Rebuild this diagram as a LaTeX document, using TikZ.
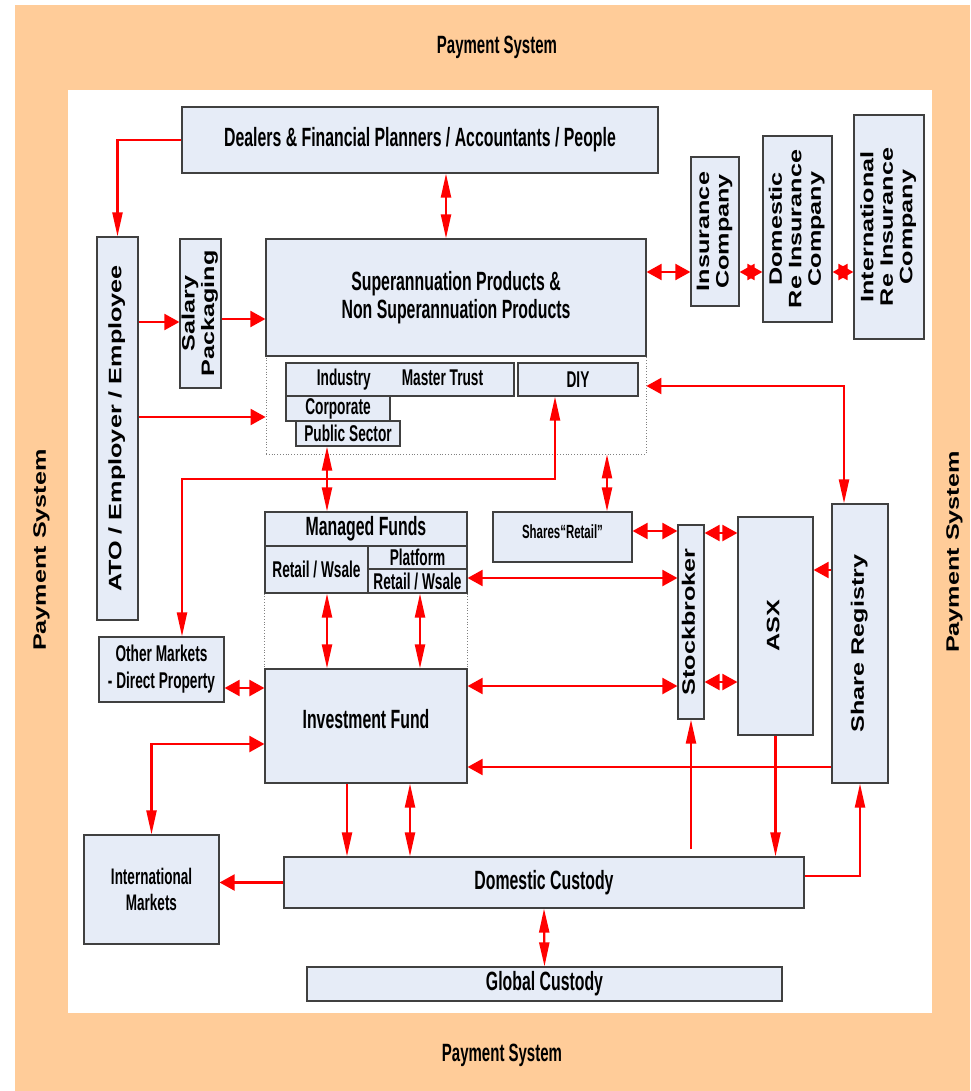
\documentclass[tikz,border=0pt]{standalone}
\usepackage{fontspec}
\usepackage{graphicx}
\usetikzlibrary{arrows.meta}
\newfontfamily\narrowfont[FakeStretch=0.6]{Liberation Sans}
\newfontfamily\widefont[FakeStretch=1.4]{Liberation Sans}
\definecolor{paysys}{RGB}{255,204,153}
\definecolor{boxfill}{RGB}{230,236,247}
\definecolor{boxline}{RGB}{64,64,64}
\newcommand{\sidetext}[1]{\rotatebox{90}{\widefont\bfseries\fontsize{18}{19.5}\selectfont
  \begin{tabular}{@{}c@{}}#1\end{tabular}}}
\tikzset{HTip/.tip={Triangle[length=15pt,width=16pt]},
  VTip/.tip={Triangle[length=24pt,width=10pt]}}

\begin{document}
\begin{tikzpicture}[x=1pt, y=-1pt,
    box/.style={draw=boxline, line width=1.2pt, fill=boxfill, inner sep=0pt, align=center,
      font=\narrowfont\bfseries\fontsize{22.8}{27}\selectfont},
    big/.style={font=\narrowfont\bfseries\fontsize{26.4}{28}\selectfont},
    flow/.style={draw=red, line width=2.2pt}]
    \useasboundingbox (0,0) rectangle (970,1091);
    \fill[paysys] (15,5) rectangle (970,1091);
    \fill[white] (68,90) rectangle (932,1013);
    \node[big, font=\narrowfont\bfseries\fontsize{25}{28}\selectfont] (paytop) at (497,47) {Payment System};
    \node[big, font=\narrowfont\bfseries\fontsize{25}{28}\selectfont] (paybot) at (502,1055) {Payment System};
    \node (payleft) at (42,550) {\sidetext{Payment System}};
    \node (payright) at (955,552) {\sidetext{Payment System}};

    % top row
    \node[box, big, minimum width=476pt, minimum height=66pt] (dealers) at (420,140)
	{Dealers \& Financial Planners / Accountants / People};
    \node[box, minimum width=41pt, minimum height=383pt] (ato) at (117.5,428.5)
	{\sidetext{ATO / Employer / Employee}};
    \node[box, minimum width=41pt, minimum height=149pt] (salary) at (200.5,313.5)
	{\sidetext{Salary\\Packaging}};
    \node[draw=gray, dotted, line width=0.8pt, inner sep=0pt,
	minimum width=380pt, minimum height=98pt] (fundtypes) at (456,405) {};
    \node[box, big, minimum width=380pt, minimum height=117pt] (super) at (456,297.5)
	{Superannuation Products \&\\Non Superannuation Products};
    \node[box, minimum width=228pt, minimum height=33pt] (industry) at (400,379.5)
	{Industry\hspace{31pt}Master Trust};
    \node[box, minimum width=120pt, minimum height=33pt] (diy) at (578,379.5) {DIY};
    \node[box, minimum width=104pt, minimum height=25pt] (corporate) at (338,408.5) {Corporate};
    \node[box, minimum width=104pt, minimum height=25pt] (public) at (348,433.5) {Public Sector};

    % insurance
    \node[box, minimum width=48pt, minimum height=149pt] (insco) at (715,231.5)
	{\sidetext{Insurance\\Company}};
    \node[box, minimum width=69pt, minimum height=186pt] (domre) at (797.5,229)
	{\sidetext{Domestic\\Re Insurance\\Company}};
    \node[box, minimum width=70pt, minimum height=224pt] (intre) at (889,227)
	{\sidetext{International\\Re Insurance\\Company}};

    % funds
    \node[box, big, minimum width=202pt, minimum height=34pt] (managed) at (366,529) {Managed Funds};
    \node[box, minimum width=103pt, minimum height=47pt] (retail1) at (316.5,569.5) {Retail / Wsale};
    \node[box, minimum width=99pt, minimum height=23pt] (platform) at (417.5,557.5) {Platform};
    \node[box, minimum width=99pt, minimum height=24pt] (retail2) at (417.5,581) {Retail / Wsale};
    \node[box, big, minimum width=202pt, minimum height=114pt] (invest) at (366,726)
	{\raisebox{15pt}{Investment Fund}};
    \draw[gray, dotted, line width=0.8pt] (retail1.south west) -- (invest.north west);
    \draw[gray, dotted, line width=0.8pt] (retail2.south east) -- (invest.north east);
    \node[box, minimum width=125pt, minimum height=65pt] (others) at (161.5,669.5)
	{Other Markets\\- Direct Property};
    \node[box, font=\narrowfont\bfseries\fontsize{19.1}{20}\selectfont,
	minimum width=139pt, minimum height=50pt] (shares) at (562.5,537)
	{\raisebox{11pt}{Shares“Retail”}};

    % market side
    \node[box, minimum width=26pt, minimum height=194pt] (broker) at (691,622) {\sidetext{Stockbroker}};
    \node[box, minimum width=75pt, minimum height=218pt] (asx) at (775.5,626) {\sidetext{ASX}};
    \node[box, minimum width=56pt, minimum height=279pt] (registry) at (860,643.5)
	{\sidetext{Share Registry}};

    % custody
    \node[box, font=\narrowfont\bfseries\fontsize{22.5}{26}\selectfont,
	minimum width=135pt, minimum height=109pt] (intlmkts) at (151.5,889.5)
	{International\\Markets};
    \node[box, big, minimum width=520pt, minimum height=51pt] (custody) at (544,882.5) {Domestic Custody};
    \node[box, big, minimum width=475pt, minimum height=34pt] (global) at (544.5,984) {Global Custody};

    % connectors
    \draw[flow, -VTip] (dealers.west) -| (ato.north);
    \draw[flow, VTip-VTip] (dealers.south -| 446,0) -- (super.north -| 446,0);
    \draw[flow, -HTip] (ato.east |- 0,322) -- (salary.west |- 0,322);
    \draw[flow, -HTip] (salary.east |- 0,319) -- (super.west |- 0,319);
    \draw[flow, -HTip] (ato.east |- 0,417) -- (fundtypes.west |- 0,417);
    \draw[flow, HTip-HTip] (super.east |- 0,272) -- (insco.west |- 0,272);
    \draw[flow, HTip-HTip] (insco.east |- 0,272) -- (domre.west |- 0,272);
    \draw[flow, HTip-HTip] (domre.east |- 0,272) -- (intre.west |- 0,272);
    \draw[flow, HTip-VTip] (fundtypes.east |- 0,386) -| (registry.north -| 844,0);
    \draw[flow, VTip-VTip] (diy.south -| 555,0) |- (182,479) -- (others.north -| 182,0);
    \draw[flow, VTip-VTip] (public.south -| 327,0) -- (managed.north -| 327,0);
    \draw[flow, VTip-VTip] (fundtypes.south -| 607,0) -- (shares.north -| 607,0);
    \draw[flow, HTip-HTip] (shares.east |- 0,531) -- (broker.west |- 0,531);
    \draw[flow, HTip-HTip] (broker.east |- 0,533) -- (asx.west |- 0,533);
    \draw[flow, HTip-HTip] (broker.east |- 0,682) -- (asx.west |- 0,682);
    \draw[flow, -HTip] (registry.west |- 0,570) -- (asx.east |- 0,570);
    \draw[flow, HTip-HTip] (retail2.east |- 0,578) -- (broker.west |- 0,578);
    \draw[flow, HTip-HTip] (invest.east |- 0,686) -- (broker.west |- 0,686);
    \draw[flow, -HTip] (registry.west |- 0,767) -- (invest.east |- 0,767);
    \draw[flow, VTip-VTip] (retail1.south -| 327,0) -- (invest.north -| 327,0);
    \draw[flow, VTip-VTip] (retail2.south -| 420,0) -- (invest.north -| 420,0);
    \draw[flow, HTip-HTip] (others.east |- 0,688) -- (invest.west |- 0,688);
    \draw[flow, HTip-VTip] (invest.west |- 0,744) -| (intlmkts.north);
    \draw[flow, -VTip] (invest.south -| 347,0) -- (custody.north -| 347,0);
    \draw[flow, VTip-VTip] (invest.south -| 410,0) -- (custody.north -| 410,0);
    \draw[flow, -VTip, shorten <=7pt] (custody.north -| broker.south) -- (broker.south);
    \draw[flow, -VTip] (asx.south) -- (asx.south |- custody.north);
    \draw[flow, -VTip] (custody.east |- 0,876) -| (registry.south);
    \draw[flow, VTip-VTip] (custody.south) -- (global.north);
    \draw[flow, -HTip] (custody.west) -- (intlmkts.east |- custody.west);
\end{tikzpicture}
\end{document}
